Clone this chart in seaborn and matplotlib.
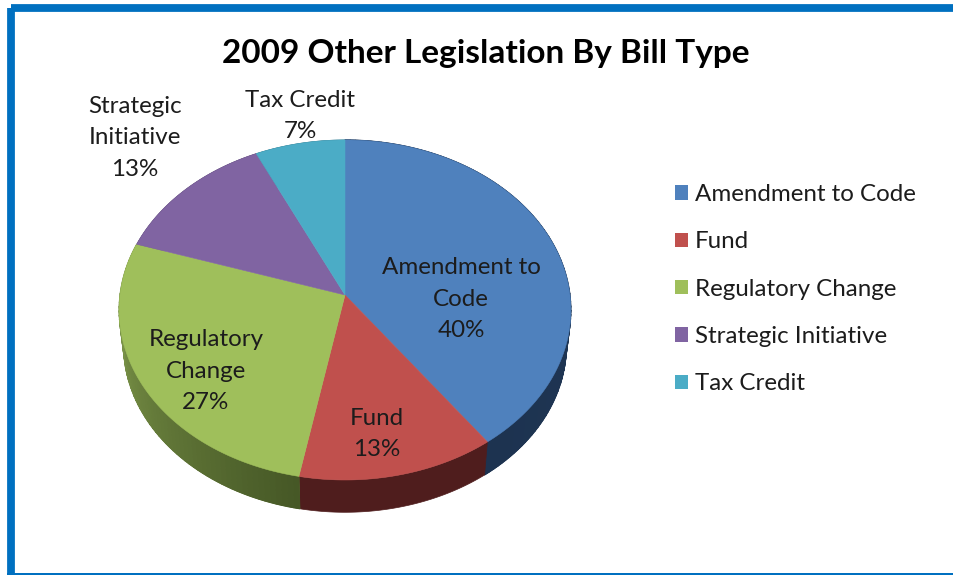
import numpy as np
import matplotlib
matplotlib.use("Agg")
import matplotlib.pyplot as plt
from matplotlib.patches import Patch, Rectangle
import seaborn as sns

# Chart data
bill_types = ["Amendment to Code", "Fund", "Regulatory Change", "Strategic Initiative", "Tax Credit"]
shares = [40, 13, 27, 13, 7]
slice_labels = ["Amendment to\nCode", "Fund", "Regulatory\nChange", "Strategic\nInitiative", "Tax Credit"]
chart_title = "2009 Other Legislation By Bill Type"

# Colours: top faces, and the shading of each slice's outer wall (clockwise)
face_colors = ["#4f81bd", "#c0504d", "#9fbf5b", "#8064a2", "#4bacc6"]
wall_from = ["#21395a", "#4f1d1d", "#465826", "#4a3a60", "#2b6576"]
wall_to = ["#1d3350", "#4f1d1d", "#8ba653", "#4a3a60", "#2b6576"]
frame_color = "#0070c0"

sns.set_theme(style="white")
plt.rcParams["font.family"] = ["Lato", "DejaVu Sans"]
palette = sns.color_palette(face_colors)

fig = plt.figure(figsize=(9.54, 5.75), dpi=100, facecolor="white")
ax = fig.add_axes([0, 0, 1, 1])
ax.set_xlim(0, 954)
ax.set_ylim(575, 0)
ax.axis("off")

# Tilted disc: a unit circle seen in perspective
CX, CY, RX, RY, K = 345.0, 295.0, 225.0, 168.7, 0.088
WALL_DROP, WALL_SCALE = 36.0, 0.98


def rim(theta, scale=1.0, drop=0.0):
    """Project clockwise-from-top angles (radians) on to the page."""
    u, v = np.sin(theta), np.cos(theta)
    w = 1 + K * v
    return CX + scale * RX * u / w, CY + drop - scale * RY * v / w


def wall_outline(theta):
    x_top, y_top = rim(theta)
    x_bot, y_bot = rim(theta, WALL_SCALE, WALL_DROP)
    return np.r_[x_top, x_bot[::-1]], np.r_[y_top, y_bot[::-1]]


fractions = np.cumsum([0] + shares) / np.sum(shares) * 2 * np.pi

# Outer walls: a solid base under narrow shaded strips, so no seams show
for i in range(len(shares)):
    a0, a1 = fractions[i], fractions[i + 1]
    n = max(8, int((a1 - a0) * 40))
    edges = np.linspace(a0, a1, n + 1)
    shades = sns.blend_palette([wall_from[i], wall_to[i]], n)
    xs, ys = wall_outline(np.linspace(a0, a1, 120))
    ax.fill(xs, ys, color=shades[n // 2], lw=0.5, zorder=1)
    if wall_from[i] != wall_to[i]:
        for j in range(n):
            xs, ys = wall_outline(np.linspace(edges[j], edges[j + 1], 4))
            ax.fill(xs, ys, color=shades[j], lw=0.8, zorder=1)

# Top faces
for i in range(len(shares)):
    t = np.linspace(fractions[i], fractions[i + 1], 160)
    x, y = rim(t)
    ax.fill(np.r_[CX, x], np.r_[CY, y], color=palette[i], lw=0.4, zorder=2)

# Slice labels
label_xy = [(461, 299), (377, 434), (206, 371), (135, 138), (300, 116)]
for name, share, (lx, ly) in zip(slice_labels, shares, label_xy):
    ax.text(lx, ly, f"{name}\n{share}%", ha="center", va="center", fontsize=17.4,
            color="#1c1c1c", linespacing=1.62, zorder=3)

ax.text(486, 53, chart_title, ha="center", va="center", fontsize=24,
        fontweight="bold", color="black", zorder=3)

# Legend
handles = [Patch(facecolor=c, edgecolor="none", label=b) for c, b in zip(palette, bill_types)]
ax.legend(handles=handles, loc="upper left", bbox_to_anchor=(675, 184),
          bbox_transform=ax.transData, frameon=False, fontsize=17.4,
          handlelength=0.54, handleheight=0.54, handletextpad=0.28,
          labelspacing=1.09, labelcolor="#1c1c1c", borderpad=0, borderaxespad=0)

# Blue frame around the slide: the outline runs off the page at right and
# bottom, and only the top sliver of its lower side falls inside the page
ax.add_patch(Rectangle((11, 7.5), 1000, 640, fill=False, edgecolor=frame_color,
                       lw=5.6, joinstyle="round", zorder=4))
ax.add_patch(Rectangle((7, 573), 947, 2, facecolor=frame_color, edgecolor="none", zorder=4))

fig.savefig("out.png", dpi=100, facecolor="white")
